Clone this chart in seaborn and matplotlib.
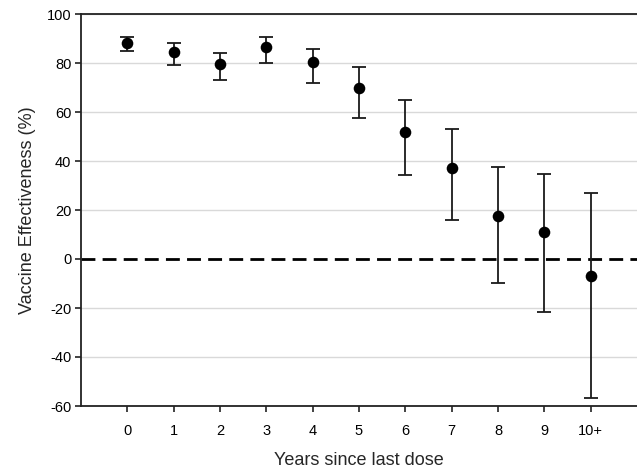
import matplotlib
matplotlib.use("Agg")
import matplotlib.pyplot as plt
import seaborn as sns
import numpy as np
import pandas as pd

# values
years = ["0", "1", "2", "3", "4", "5", "6", "7", "8", "9", "10+"]
effectiveness = [88.1, 84.3, 79.5, 86.4, 80.3, 69.6, 51.8, 37.2, 17.4, 10.9, -7.0]
ci_lower = [85.1, 79.2, 72.9, 80.2, 71.8, 57.4, 34.1, 15.9, -9.7, -21.5, -56.8]
ci_upper = [90.6, 88.1, 84.2, 90.7, 85.9, 78.3, 64.9, 53.1, 37.7, 34.7, 26.9]
y_ticks = [-60, -40, -20, 0, 20, 40, 60, 80, 100]

df = pd.DataFrame({"pos": np.arange(len(years)), "ve": effectiveness,
                   "lo": ci_lower, "hi": ci_upper})

sns.set_style("white")
plt.rcParams["font.family"] = ["Liberation Sans", "DejaVu Sans"]
plt.rcParams["axes.unicode_minus"] = False

fig = plt.figure(figsize=(6.37, 4.73), dpi=100)
ax = fig.add_axes([81 / 637, 1 - 406 / 473, 556 / 637, 392 / 473])

# light horizontal grid
for v in y_ticks:
    if v != 0:
        ax.axhline(v, color="#d9d9d9", lw=1.0, zorder=0)

# reference line at zero
ax.axhline(0, color="black", lw=2.0, ls=(0, (5, 2.6)), zorder=1)

ax.errorbar(df["pos"], df["ve"],
            yerr=[df["ve"] - df["lo"], df["hi"] - df["ve"]],
            fmt="none", ecolor="#1a1a1a", elinewidth=1.3, capsize=5,
            capthick=1.3, zorder=2)
sns.scatterplot(data=df, x="pos", y="ve", ax=ax, color="black", s=70,
                edgecolor="black", linewidth=0, zorder=3)

ax.set_xlim(-1, 11)
ax.set_ylim(-60, 100)
ax.set_yticks(y_ticks)
ax.set_xticks(df["pos"])
ax.set_xticklabels(years)

ax.tick_params(axis="both", direction="out", length=4, width=1.2,
               color="#222222", labelsize=10.5, labelcolor="black",
               bottom=True, left=True)
ax.tick_params(axis="x", pad=9)
ax.tick_params(axis="y", pad=3)

for side in ["left", "bottom", "top"]:
    ax.spines[side].set_color("#222222")
    ax.spines[side].set_linewidth(1.3)
ax.spines["right"].set_visible(False)

ax.set_xlabel("Years since last dose", fontsize=13, labelpad=10)
ax.set_ylabel("Vaccine Effectiveness (%)", fontsize=13, labelpad=8)

fig.savefig("out.png", dpi=100)
